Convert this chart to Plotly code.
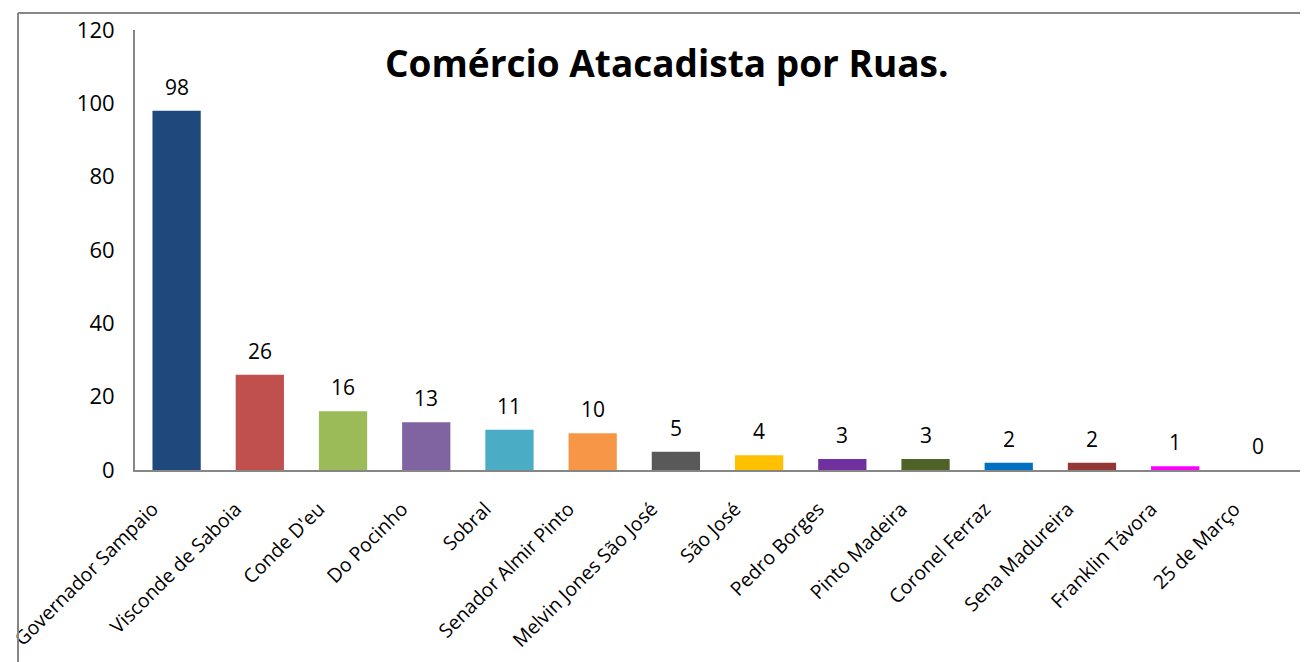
import plotly.graph_objects as go

# Data
ruas = [
    "Governador Sampaio", "Visconde de Saboia", "Conde D'eu", "Do Pocinho",
    "Sobral", "Senador Almir Pinto", "Melvin Jones São José", "São José",
    "Pedro Borges", "Pinto Madeira", "Coronel Ferraz", "Sena Madureira",
    "Franklin Távora", "25 de Março",
]
qtd = [98, 26, 16, 13, 11, 10, 5, 4, 3, 3, 2, 2, 1, 0]
cores = [
    "#1F497D", "#C0504D", "#9BBB59", "#8064A2", "#4BACC6", "#F79646",
    "#595959", "#FFC000", "#7030A0", "#4F6228", "#0070C0", "#953735",
    "#FF00FF", "#4BACC6",
]

# the page body adds an 8px offset, so the figure is a bit smaller
W, H = 1300, 654
L, R, T, B = 127, 8, 22, 192
FONT = "Open Sans"


# page pixel -> paper coords
def px_x(x):
    return (x - 8 - L) / (W - L - R)


def px_y(y):
    return (H - B - (y - 8)) / (H - T - B)


fig = go.Figure(
    go.Bar(
        x=ruas,
        y=qtd,
        marker=dict(color=cores, line=dict(width=0)),
        hoverinfo="x+y",
    )
)

# value labels above the bars
for r, v in zip(ruas, qtd):
    fig.add_annotation(
        x=r, y=v, text=str(v), showarrow=False, yshift=24,
        font=dict(family=FONT, size=21, color="#000000"),
    )

# title
fig.add_annotation(
    xref="paper", yref="paper", x=px_x(667), y=px_y(62),
    text="<b>Comércio Atacadista por Ruas.</b>", showarrow=False,
    xanchor="center", yanchor="middle",
    font=dict(family=FONT, size=37, color="#000000"),
)

# outer chart frame (left + top edges)
frame = dict(color="#878787", width=2)
fig.add_shape(type="line", xref="paper", yref="paper",
              x0=px_x(18), x1=px_x(18), y0=px_y(13), y1=px_y(700), line=frame)
fig.add_shape(type="line", xref="paper", yref="paper",
              x0=px_x(18), x1=px_x(1320), y0=px_y(13), y1=px_y(13), line=frame)

fig.update_layout(
    width=W,
    height=H,
    margin=dict(l=L, r=R, t=T, b=B, autoexpand=False),
    paper_bgcolor="white",
    plot_bgcolor="white",
    bargap=0.42,
    showlegend=False,
    font=dict(family=FONT, size=21, color="#000000"),
)
fig.update_xaxes(
    tickangle=-45, automargin=False,
    showline=True, linecolor="#868686", linewidth=2,
    ticks="", showgrid=False,
    tickfont=dict(family=FONT, size=19.5),
    ticklabelshift=-24, ticklabelstandoff=18,
)
fig.update_yaxes(
    range=[0, 120], dtick=20, automargin=False,
    showline=True, linecolor="#868686", linewidth=2,
    ticks="", showgrid=False, zeroline=False,
    tickfont=dict(family=FONT, size=22),
    ticklabelstandoff=14,
)

fig.write_html("out.html")
